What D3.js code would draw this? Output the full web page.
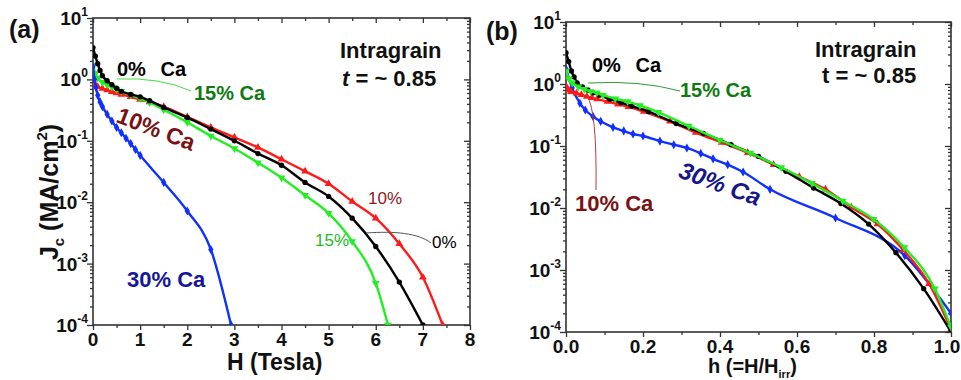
<!DOCTYPE html>
<html>
<head>
<meta charset="utf-8">
<script src="https://cdn.jsdelivr.net/npm/d3@7"></script>
<style>
  body { margin: 0; background: #fff; }
  svg { display: block; font-family: "Liberation Sans", Arial, sans-serif; }
</style>
</head>
<body>
<svg id="chart" width="961" height="380"></svg>
<script>
// ---- panel (a): Jc vs H (Tesla) ----
const a0H  = [0, 0.05, 0.1, 0.15, 0.2, 0.3, 0.4, 0.5, 0.6, 0.8, 1.0, 1.2, 1.5, 2.0, 2.5, 3.0, 3.5, 4.0, 4.5, 5.0, 5.5, 6.0, 6.5, 7.0];
const a0J  = [3.3, 2.4, 1.8, 1.4, 1.15, 0.95, 0.82, 0.72, 0.64, 0.57, 0.52, 0.45, 0.35, 0.24, 0.155, 0.10, 0.062, 0.04, 0.021, 0.0124, 0.0055, 0.0019, 0.0005, 0.0001];
const a10H = [0, 0.05, 0.1, 0.2, 0.3, 0.4, 0.5, 0.6, 0.8, 1.0, 1.2, 1.5, 2.0, 2.5, 3.0, 3.5, 4.0, 4.5, 5.0, 5.5, 6.0, 6.5, 7.0, 7.42];
const a10J = [1.0, 0.82, 0.76, 0.71, 0.67, 0.63, 0.6, 0.57, 0.52, 0.47, 0.43, 0.36, 0.245, 0.165, 0.114, 0.078, 0.05, 0.032, 0.020, 0.0103, 0.0055, 0.0021, 0.0006, 0.0001];
const a15H = [0, 0.05, 0.1, 0.2, 0.3, 0.4, 0.5, 0.6, 0.8, 1.0, 1.2, 1.5, 2.0, 2.5, 3.0, 3.5, 4.0, 4.5, 5.0, 5.5, 6.0, 6.26];
const a15J = [1.7, 1.25, 1.05, 0.9, 0.82, 0.75, 0.69, 0.64, 0.56, 0.49, 0.42, 0.32, 0.2, 0.12, 0.075, 0.044, 0.025, 0.013, 0.0066, 0.0023, 0.00048, 0.0001];
const a30H = [0, 0.03, 0.06, 0.1, 0.15, 0.2, 0.3, 0.4, 0.5, 0.6, 0.7, 0.8, 0.9, 1.0, 1.5, 2.0, 2.5, 2.93];
const a30J = [1.6, 1.0, 0.75, 0.55, 0.43, 0.36, 0.27, 0.21, 0.165, 0.135, 0.11, 0.09, 0.072, 0.058, 0.021, 0.0072, 0.0017, 0.0001];

// ---- panel (b): Jc vs reduced field h = H/Hirr ----
const b0h  = [0, 0.007, 0.014, 0.021, 0.029, 0.043, 0.057, 0.071, 0.086, 0.114, 0.143, 0.171, 0.214, 0.286, 0.357, 0.429, 0.5, 0.571, 0.643, 0.714, 0.786, 0.857, 0.929, 1.0];
const b0J  = [3.2, 2.3, 1.62, 1.3, 1.04, 0.9, 0.8, 0.72, 0.66, 0.57, 0.5, 0.44, 0.36, 0.23, 0.16, 0.105, 0.068, 0.039, 0.021, 0.0118, 0.0055, 0.0019, 0.0005, 0.0001];
const b10h = [0, 0.007, 0.013, 0.027, 0.04, 0.054, 0.067, 0.081, 0.108, 0.135, 0.162, 0.202, 0.27, 0.337, 0.404, 0.472, 0.539, 0.606, 0.674, 0.741, 0.809, 0.876, 0.943, 1.0];
const b10J = [0.93, 0.8, 0.75, 0.71, 0.67, 0.63, 0.6, 0.57, 0.52, 0.47, 0.43, 0.36, 0.25, 0.165, 0.114, 0.078, 0.05, 0.032, 0.020, 0.0103, 0.0055, 0.0021, 0.0006, 0.00011];
const b15h = [0, 0.008, 0.016, 0.032, 0.048, 0.064, 0.08, 0.096, 0.128, 0.16, 0.192, 0.24, 0.319, 0.399, 0.479, 0.559, 0.639, 0.719, 0.799, 0.879, 0.958, 1.0];
const b15J = [1.62, 1.2, 1.05, 0.9, 0.82, 0.76, 0.72, 0.66, 0.58, 0.52, 0.45, 0.35, 0.21, 0.125, 0.077, 0.045, 0.025, 0.013, 0.0066, 0.0023, 0.0005, 0.00012];
const b30h = [0, 0.016, 0.036, 0.05, 0.07, 0.09, 0.122, 0.15, 0.174, 0.2, 0.244, 0.28, 0.314, 0.35, 0.382, 0.42, 0.46, 0.53, 0.70, 0.88, 1.0];
const b30J = [1.75, 0.86, 0.49, 0.38, 0.30, 0.25, 0.20, 0.175, 0.156, 0.145, 0.12, 0.105, 0.093, 0.076, 0.062, 0.05, 0.038, 0.020, 0.0069, 0.0017, 0.0002];

// ---- ticks ----
const yTickExps = [1, 0, -1, -2, -3, -4];
const xTicksA = [0, 1, 2, 3, 4, 5, 6, 7, 8];
const xMinorA = [0.5, 1.5, 2.5, 3.5, 4.5, 5.5, 6.5, 7.5];
const xTicksB = [0, 0.2, 0.4, 0.6, 0.8, 1.0];
const xMinorB = [0.1, 0.3, 0.5, 0.7, 0.9];

const svg = d3.select("#chart");

const sym = {
  circle:  d3.symbol().type(d3.symbolCircle).size(22),
  up:      d3.symbol().type(d3.symbolTriangle).size(26),
  down:    d3.symbol().type(d3.symbolTriangle).size(26),
  diamond: d3.symbol().type(d3.symbolDiamond).size(24)
};

const panels = [
  {
    id: "a", left: 93, right: 470, top: 18, bottom: 325, xDomain: [0, 8],
    xTicks: xTicksA, xMinor: xMinorA, fmt: d3.format("d"),
    series: [
      { x: a10H, y: a10J, color: "#ff1a1a", sym: "up" },
      { x: a15H, y: a15J, color: "#22ee22", sym: "down" },
      { x: a0H,  y: a0J,  color: "#000000", sym: "circle" },
      { x: a30H, y: a30J, color: "#1030ff", sym: "diamond" }
    ]
  },
  {
    id: "b", left: 566, right: 951, top: 22, bottom: 332, xDomain: [0, 1],
    xTicks: xTicksB, xMinor: xMinorB, fmt: d3.format(".1f"),
    series: [
      { x: b30h, y: b30J, color: "#1030ff", sym: "diamond" },
      { x: b10h, y: b10J, color: "#ff1a1a", sym: "up" },
      { x: b0h,  y: b0J,  color: "#000000", sym: "circle" },
      { x: b15h, y: b15J, color: "#22ee22", sym: "down" }
    ]
  }
];

// minor log ticks 2..9 per decade
const minorLog = [];
for (let e = -4; e < 1; e++) for (let m = 2; m <= 9; m++) minorLog.push(m * Math.pow(10, e));
const majorLog = yTickExps.map(e => Math.pow(10, e));

panels.forEach(p => {
  const x = d3.scaleLinear().domain(p.xDomain).range([p.left, p.right]);
  const y = d3.scaleLog().domain([1e-4, 10]).range([p.bottom, p.top]);
  const g = svg.append("g").attr("class", "panel-" + p.id);

  g.append("clipPath").attr("id", "clip-" + p.id)
    .append("rect")
    .attr("x", p.left).attr("y", p.top)
    .attr("width", p.right - p.left).attr("height", p.bottom - p.top);

  // axes (ticks only, labels drawn below)
  const axes = [
    [d3.axisBottom(x).tickValues(p.xTicks).tickSize(5), `translate(0,${p.bottom})`],
    [d3.axisBottom(x).tickValues(p.xMinor).tickSize(3), `translate(0,${p.bottom})`],
    [d3.axisTop(x).tickValues(p.xTicks).tickSize(-5), `translate(0,${p.top})`],
    [d3.axisTop(x).tickValues(p.xMinor).tickSize(-3), `translate(0,${p.top})`],
    [d3.axisLeft(y).tickValues(majorLog).tickSize(6), `translate(${p.left},0)`],
    [d3.axisLeft(y).tickValues(minorLog).tickSize(3), `translate(${p.left},0)`],
    [d3.axisRight(y).tickValues(majorLog).tickSize(-6), `translate(${p.right},0)`],
    [d3.axisRight(y).tickValues(minorLog).tickSize(-3), `translate(${p.right},0)`]
  ];
  axes.forEach(([ax, tr]) => {
    g.append("g").attr("transform", tr)
      .call(ax.tickFormat("").tickSizeOuter(0))
      .call(s => s.select(".domain").remove())
      .call(s => s.selectAll("line").attr("stroke", "#333").attr("stroke-width", 1.3));
  });

  g.append("rect")
    .attr("x", p.left).attr("y", p.top)
    .attr("width", p.right - p.left).attr("height", p.bottom - p.top)
    .attr("fill", "none").attr("stroke", "#333").attr("stroke-width", 1.6);

  // y tick labels 10^n
  yTickExps.forEach(e => {
    const t = g.append("text")
      .attr("x", p.left - 5).attr("y", y(Math.pow(10, e)) + 7)
      .attr("text-anchor", "end")
      .attr("font-size", 19).attr("font-weight", "bold").attr("fill", "#111");
    t.append("tspan").text("10");
    t.append("tspan").attr("dy", -9).attr("font-size", 12).text(e);
  });

  // x tick labels (last one kept inside the page)
  g.append("g").selectAll("text").data(p.xTicks).join("text")
    .attr("x", d => Math.min(x(d), 947)).attr("y", p.bottom + 21)
    .attr("text-anchor", "middle")
    .attr("font-size", 19).attr("font-weight", "bold").attr("fill", "#111")
    .text(d => p.fmt(d));

  // curves + markers
  const line = d3.line()
    .x(d => x(d[0])).y(d => y(d[1]))
    .curve(d3.curveMonotoneX);
  const plot = g.append("g").attr("clip-path", `url(#clip-${p.id})`);
  p.series.forEach(s => {
    const pts = d3.zip(s.x, s.y);
    plot.append("path").datum(pts)
      .attr("fill", "none").attr("stroke", s.color)
      .attr("stroke-width", 2.4).attr("stroke-linejoin", "round")
      .attr("d", line);
    plot.append("g").selectAll("path").data(pts).join("path")
      .attr("transform", d => `translate(${x(d[0])},${y(d[1])})` + (s.sym === "down" ? " rotate(180)" : ""))
      .attr("d", sym[s.sym]())
      .attr("fill", s.color);
  });
});

// ---- annotations ----
function label(txt, x0, y0, size, color, weight) {
  return svg.append("text").attr("x", x0).attr("y", y0)
    .attr("font-size", size).attr("fill", color)
    .attr("font-weight", weight || "bold").text(txt);
}

// leader lines
svg.append("path").attr("d", "M117,79 Q160,77 191,91")
  .attr("fill", "none").attr("stroke", "#44dd44").attr("stroke-width", 1);
svg.append("path").attr("d", "M366,233 C395,231 418,233 431,243")
  .attr("fill", "none").attr("stroke", "#555").attr("stroke-width", 1);
svg.append("path").attr("d", "M588,83 Q640,80 680,91")
  .attr("fill", "none").attr("stroke", "#339933").attr("stroke-width", 1);
svg.append("path").attr("d", "M587,96 Q597,110 596,190")
  .attr("fill", "none").attr("stroke", "#b04040").attr("stroke-width", 1);

// panel (a)
label("(a)", 9, 38, 25, "#111");
label("0% Ca", 117, 76, 20, "#000").attr("word-spacing", 9);
label("15% Ca", 194, 100, 20, "#107a10");
svg.append("text").attr("transform", "translate(156,129) rotate(21)")
  .attr("text-anchor", "middle").attr("y", 8)
  .attr("font-size", 23).attr("font-weight", "bold").attr("fill", "#7a1214")
  .text("10% Ca");
label("30% Ca", 127, 287, 22, "#16169a");
label("10%", 368, 204, 17, "#8b2020", "normal");
label("15%", 315, 246, 17, "#22bb22", "normal");
label("0%", 432, 248, 17, "#000", "normal");
label("Intragrain", 340, 58, 22, "#111");
const ta = label("", 342, 86, 22, "#111");
ta.append("tspan").attr("font-style", "italic").text("t");
ta.append("tspan").text(" = ~ 0.85");

// axis titles (a)
label("H (Tesla)", 227, 370, 23, "#111");
const yt = svg.append("text").attr("transform", "translate(58,192) rotate(-90)")
  .attr("text-anchor", "middle").attr("font-size", 25).attr("font-weight", "bold").attr("fill", "#111");
yt.append("tspan").text("J");
yt.append("tspan").attr("font-size", 15).attr("dy", 6).text("c");
yt.append("tspan").attr("dy", -6).text(" (MA/cm");
yt.append("tspan").attr("font-size", 15).attr("dy", -11).text("2");
yt.append("tspan").attr("dy", 11).text(")");

// panel (b)
label("(b)", 486, 40, 25, "#111");
label("0% Ca", 592, 72, 20, "#000").attr("word-spacing", 9);
label("15% Ca", 680, 97, 20, "#107a10");
label("10% Ca", 575, 211, 22, "#7a1214");
svg.append("text").attr("transform", "translate(720,184) rotate(20)")
  .attr("text-anchor", "middle").attr("y", 8)
  .attr("font-size", 24).attr("font-weight", "bold").attr("font-style", "italic").attr("fill", "#16168a")
  .text("30% Ca");
label("Intragrain", 815, 57, 22, "#111");
label("t = ~ 0.85", 822, 83, 22, "#111");
const hx = label("h (=H/H", 708, 373, 20, "#111");
hx.append("tspan").attr("font-size", 11).attr("dy", 5).text("irr");
hx.append("tspan").attr("dy", -5).text(")");
</script>
</body>
</html>
